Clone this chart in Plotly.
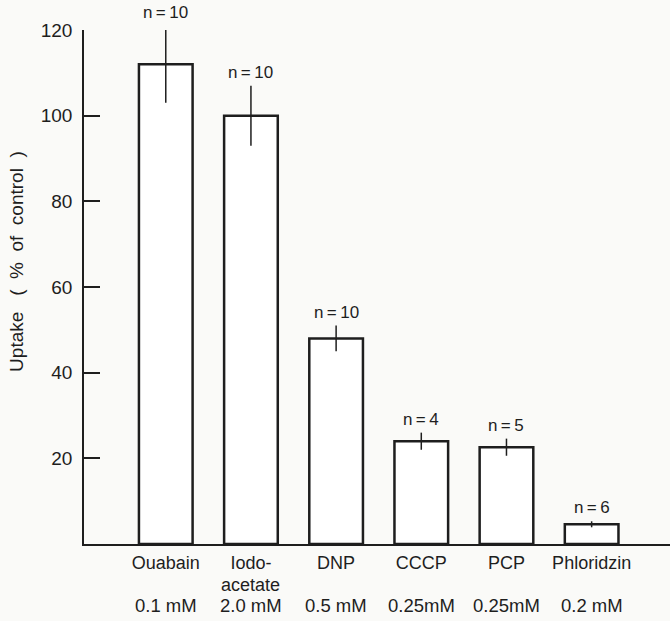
import plotly.graph_objects as go

category_line1 = ["Ouabain", "Iodo-", "DNP", "CCCP", "PCP", "Phloridzin"]
category_line2 = ["", "acetate", "", "", "", ""]
concentrations = ["0.1 mM", "2.0 mM", "0.5 mM", "0.25mM", "0.25mM", "0.2 mM"]
uptake = [112, 100, 48, 24, 22.6, 4.6]
errors = [9, 7, 3, 2, 2, 0.7]
n_labels = ["n\u2009=\u200910", "n\u2009=\u200910", "n\u2009=\u200910",
            "n\u2009=\u20094", "n\u2009=\u20095", "n\u2009=\u20096"]
y_ticks = [20, 40, 60, 80, 100, 120]
Y_MAX = 120

FONT = "Liberation Sans, Arial, sans-serif"
INK = "#1e1e1e"
BG = "#fafaf8"
xpos = list(range(len(category_line1)))

fig = go.Figure()
fig.add_trace(go.Bar(
    x=xpos, y=uptake, width=0.63,
    marker=dict(color="white", line=dict(color=INK, width=2.5)),
    error_y=dict(type="data", array=errors, visible=True, color=INK, thickness=1.5, width=0),
    showlegend=False, cliponaxis=False,
))

for xi, v, e, lab in zip(xpos, uptake, errors, n_labels):
    fig.add_annotation(x=xi, y=(v + e) / Y_MAX, xref="x", yref="paper", text=lab,
                       showarrow=False, yanchor="bottom", yshift=2,
                       font=dict(family=FONT, size=17, color=INK))

for xi, t in zip(xpos, category_line2):
    if t:
        fig.add_annotation(x=xi, y=-0.0798, xref="x", yref="paper", text=t, showarrow=False,
                           yanchor="middle", font=dict(family=FONT, size=18, color=INK))

for xi, c in zip(xpos, concentrations):
    fig.add_annotation(x=xi, y=-0.1206, xref="x", yref="paper", text=c, showarrow=False,
                       yanchor="middle", font=dict(family=FONT, size=18.5, color=INK))

fig.add_annotation(x=-0.115, y=0.55, xref="paper", yref="paper",
                   text="Uptake   (  %  of  control  )",
                   textangle=-90, showarrow=False, xanchor="center", yanchor="middle",
                   font=dict(family=FONT, size=19, color=INK))

fig.update_layout(
    width=670, height=621,
    margin=dict(l=84, r=0, t=30, b=77),
    paper_bgcolor=BG, plot_bgcolor=BG,
    font=dict(family=FONT, size=19, color=INK),
)
fig.update_xaxes(
    range=[-0.96, 5.92], tickvals=xpos, ticktext=category_line1,
    showline=True, linecolor=INK, linewidth=1.5, ticks="", showgrid=False, zeroline=False,
    ticklabelstandoff=2, tickfont=dict(family=FONT, size=18, color=INK),
)
fig.update_yaxes(
    range=[0, Y_MAX], tickvals=y_ticks, ticks="inside", ticklen=16, tickwidth=1.5, tickcolor=INK,
    showline=True, linecolor=INK, linewidth=1.5, showgrid=False, zeroline=False,
    ticklabelstandoff=6, tickfont=dict(family=FONT, size=19, color=INK),
)

fig.write_html("out.html")
